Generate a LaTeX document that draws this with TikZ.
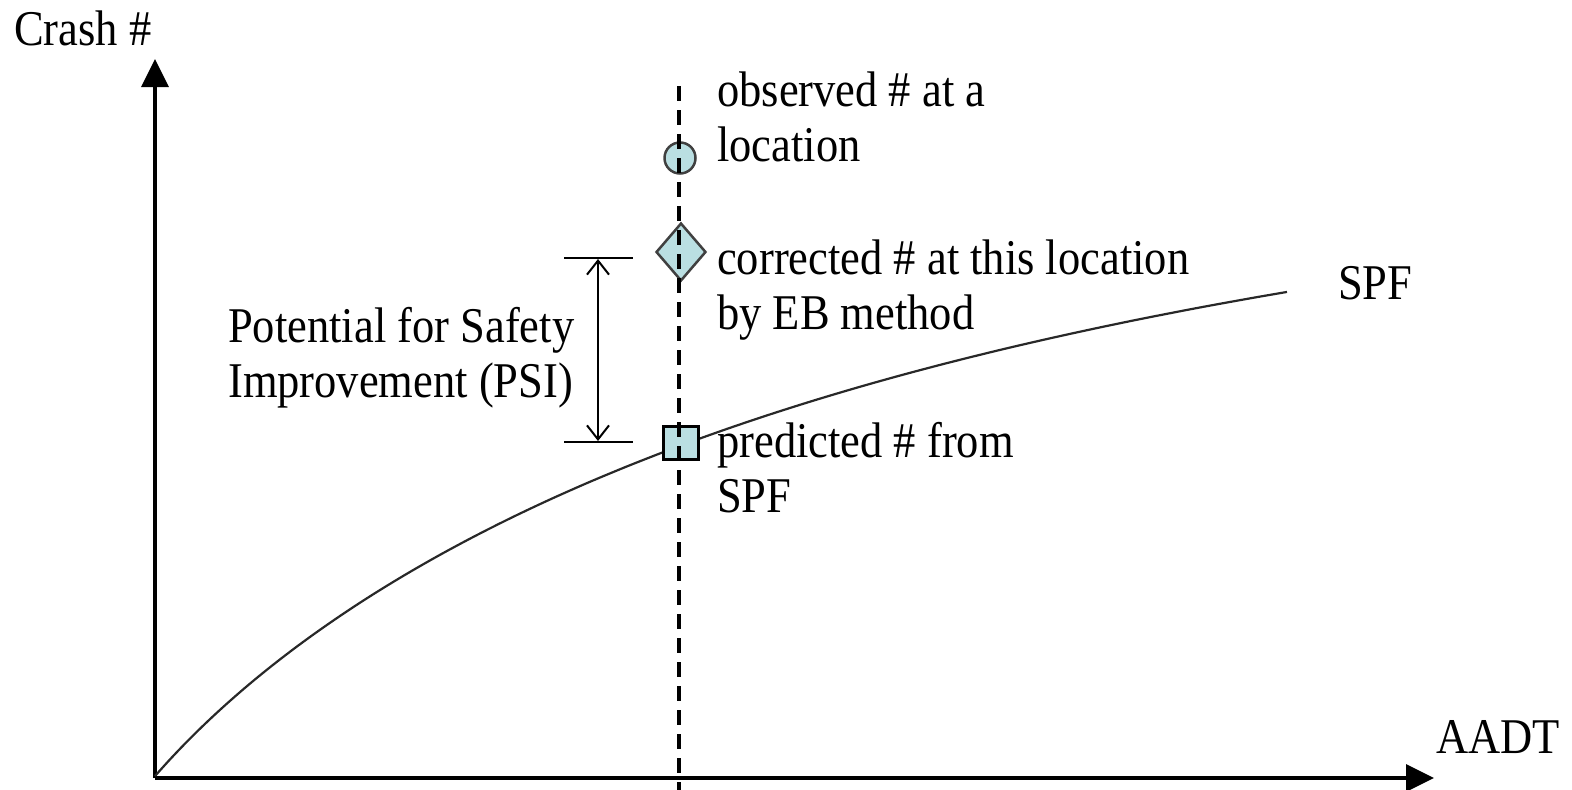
\documentclass[tikz,border=0pt]{standalone}
\usepackage{fontspec}
\setmainfont[FakeStretch=0.89]{Liberation Serif}
\usetikzlibrary{arrows.meta,shapes.geometric}
\definecolor{markfill}{RGB}{186,223,226}
\definecolor{curvegray}{RGB}{40,40,40}
\tikzset{
  lbl/.style={anchor=base west, inner sep=0pt, align=left, font=\fontsize{50}{55}\selectfont},
  axis/.style={line width=3.5pt, -{Triangle[length=28pt,width=27pt]}},
  marker/.style={fill=markfill, draw=black!75, line width=2.5pt, inner sep=0pt},
  guide/.style={line width=3.5pt, dash pattern=on 15pt off 9pt},
  tick/.style={line width=2.5pt},
  psi/.style={line width=2pt, {Straight Barb[length=14pt,width=22pt]}-{Straight Barb[length=14pt,width=22pt]}},
  spf/.style={line width=2.2pt, draw=curvegray}
}
\begin{document}
\begin{tikzpicture}[x=1pt,y=-1pt]
\useasboundingbox (0,0) rectangle (1572,790);
% axes
\coordinate (O) at (155,778);
\coordinate (ytop) at (155,59);
\coordinate (xend) at (1434,778);
\draw[axis] (O) -- (ytop);
\draw[axis] (O) -- (xend);
\node[lbl] (ylab) at (14,45) {Crash \#};
\node[lbl] (xlab) at (1436,753) {AADT};
% SPF curve
\draw[spf] plot[domain=0:1132, samples=80, smooth] ({155+\x}, {776 - 0.5*(241*ln(1+\x/175) + 583*(1-exp(-\x/640)))});
\node[lbl] (spflab) at (1338,299) {SPF};
% markers
\node[marker, circle, minimum size=31pt] (obs) at (680,158) {};
\node[marker, diamond, minimum width=50pt, minimum height=58pt] (cor) at (681,252) {};
\node[marker, rectangle, draw=black, minimum width=35pt, minimum height=33pt] (pred) at (681,443) {};
% vertical dashed guide
\coordinate (vtop) at (679,86);
\coordinate (vbot) at (679,792);
\draw[guide] (vtop) -- (vbot);
% labels
\node[lbl] (obslab) at (717,161) {observed \# at a\\location};
\node[lbl] (corlab) at (717,329) {corrected \# at this location\\by EB method};
\node[lbl] (predlab) at (717,512) {predicted \# from\\SPF};
% PSI
\coordinate (t1) at (564,258);
\coordinate (t2) at (633,258);
\coordinate (b1) at (564,442);
\coordinate (b2) at (633,442);
\coordinate (at) at (598,259);
\coordinate (ab) at (598,441);
\draw[tick] (t1) -- (t2);
\draw[tick] (b1) -- (b2);
\draw[psi] (at) -- (ab);
\node[lbl] (psilab) at (228,397) {Potential for Safety\\Improvement (PSI)};
\end{tikzpicture}
\end{document}
